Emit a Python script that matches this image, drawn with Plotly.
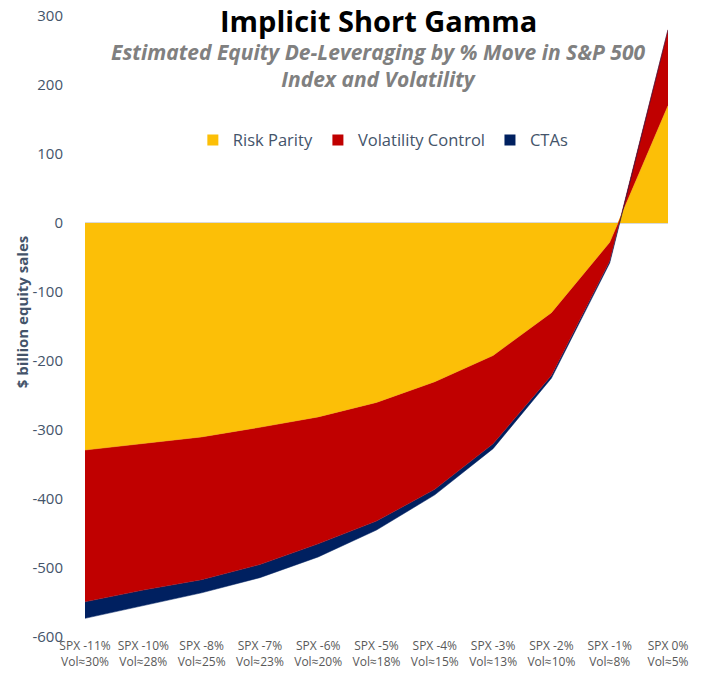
import plotly.graph_objects as go

# categories (x axis)
spx_moves = ["-11%", "-10%", "-8%", "-7%", "-6%", "-5%", "-4%", "-3%", "-2%", "-1%", "0%"]
vol_levels = ["30%", "28%", "25%", "23%", "20%", "18%", "15%", "13%", "10%", "8%", "5%"]

# $ billion equity sales, stacked
risk_parity = [-329, -320, -310, -296, -281, -260, -230, -192, -130, -28, 170]
vol_control = [-220, -212, -207, -199, -184, -172, -156, -128, -91, -27, 110]
ctas = [-24, -23, -19, -19, -19, -13, -8, -7, -4, -3, 0]

# y axis ticks (plain hyphen minus like the original)
y_ticks = [300, 200, 100, 0, -100, -200, -300, -400, -500, -600]
y_tick_text = ["300", "200", "100", "0", "-100", "-200", "-300", "-400", "-500", "-600"]

labels = [f"SPX {m}<br>Vol≈{v}" for m, v in zip(spx_moves, vol_levels)]
x = list(range(len(labels)))

series = [
    ("Risk Parity", risk_parity, "#FCBF07"),
    ("Volatility Control", vol_control, "#C00000"),
    ("CTAs", ctas, "#002060"),
]

fig = go.Figure()
for name, vals, color in series:
    fig.add_trace(go.Scatter(
        x=x, y=vals, name=name, mode="lines",
        stackgroup="one", showlegend=False,
        line=dict(width=0.5, color=color),
        fillcolor=color,
    ))
# square swatches for the legend
for name, vals, color in series:
    fig.add_trace(go.Scatter(
        x=[None], y=[None], name=name, mode="markers",
        marker=dict(symbol="square", size=11, color=color),
    ))

font = "'Open Sans', sans-serif"

fig.update_layout(
    width=704, height=676,
    margin=dict(l=85, r=36, t=16, b=39),
    plot_bgcolor="white", paper_bgcolor="white",
    font=dict(family=font, color="#44546A"),
    showlegend=True,
    legend=dict(
        orientation="h", x=0.185, y=0.8, xanchor="left", yanchor="middle",
        font=dict(size=16.5, color="#44546A"), bgcolor="rgba(0,0,0,0)",
        traceorder="normal", itemwidth=30,
    ),
    xaxis=dict(
        range=[0, 10], tickmode="array", tickvals=x, ticktext=labels,
        showgrid=False, zeroline=False, showline=False, ticks="",
        tickfont=dict(size=12, color="#595959"), tickangle=0,
        automargin=False,
    ),
    yaxis=dict(
        range=[-600, 300], tickmode="array", tickvals=y_ticks, ticktext=y_tick_text,
        showgrid=False, zeroline=True, zerolinecolor="#D9D9D9", zerolinewidth=1.5,
        showline=False, ticks="outside", ticklen=18, tickcolor="rgba(0,0,0,0)",
        tickfont=dict(size=15, color="#44546A"), automargin=False,
        ticklabeloverflow="allow",
    ),
)

fig.add_annotation(
    text="<b>Implicit Short Gamma</b>", xref="paper", yref="paper",
    x=0.503, y=0.993, xanchor="center", yanchor="middle", showarrow=False,
    font=dict(size=29, color="black", family=font),
)
fig.add_annotation(
    text="<b><i>Estimated Equity De-Leveraging by % Move in S&P 500<br>"
         "Index and Volatility</i></b>",
    xref="paper", yref="paper", x=0.503, y=0.921, xanchor="center",
    yanchor="middle", showarrow=False,
    font=dict(size=21, color="#808080", family=font),
)
fig.add_annotation(
    text="<b>$ billion equity sales</b>", xref="paper", yref="paper",
    x=-0.108, y=0.523, xanchor="center", yanchor="middle", textangle=-90,
    showarrow=False, font=dict(size=15, color="#44546A", family=font),
)

# drop the default 8px page margin so the figure sits at the window corner
fig.write_html(
    "out.html",
    config={"displayModeBar": False},
    post_script="document.body.style.margin = '0';",
)
